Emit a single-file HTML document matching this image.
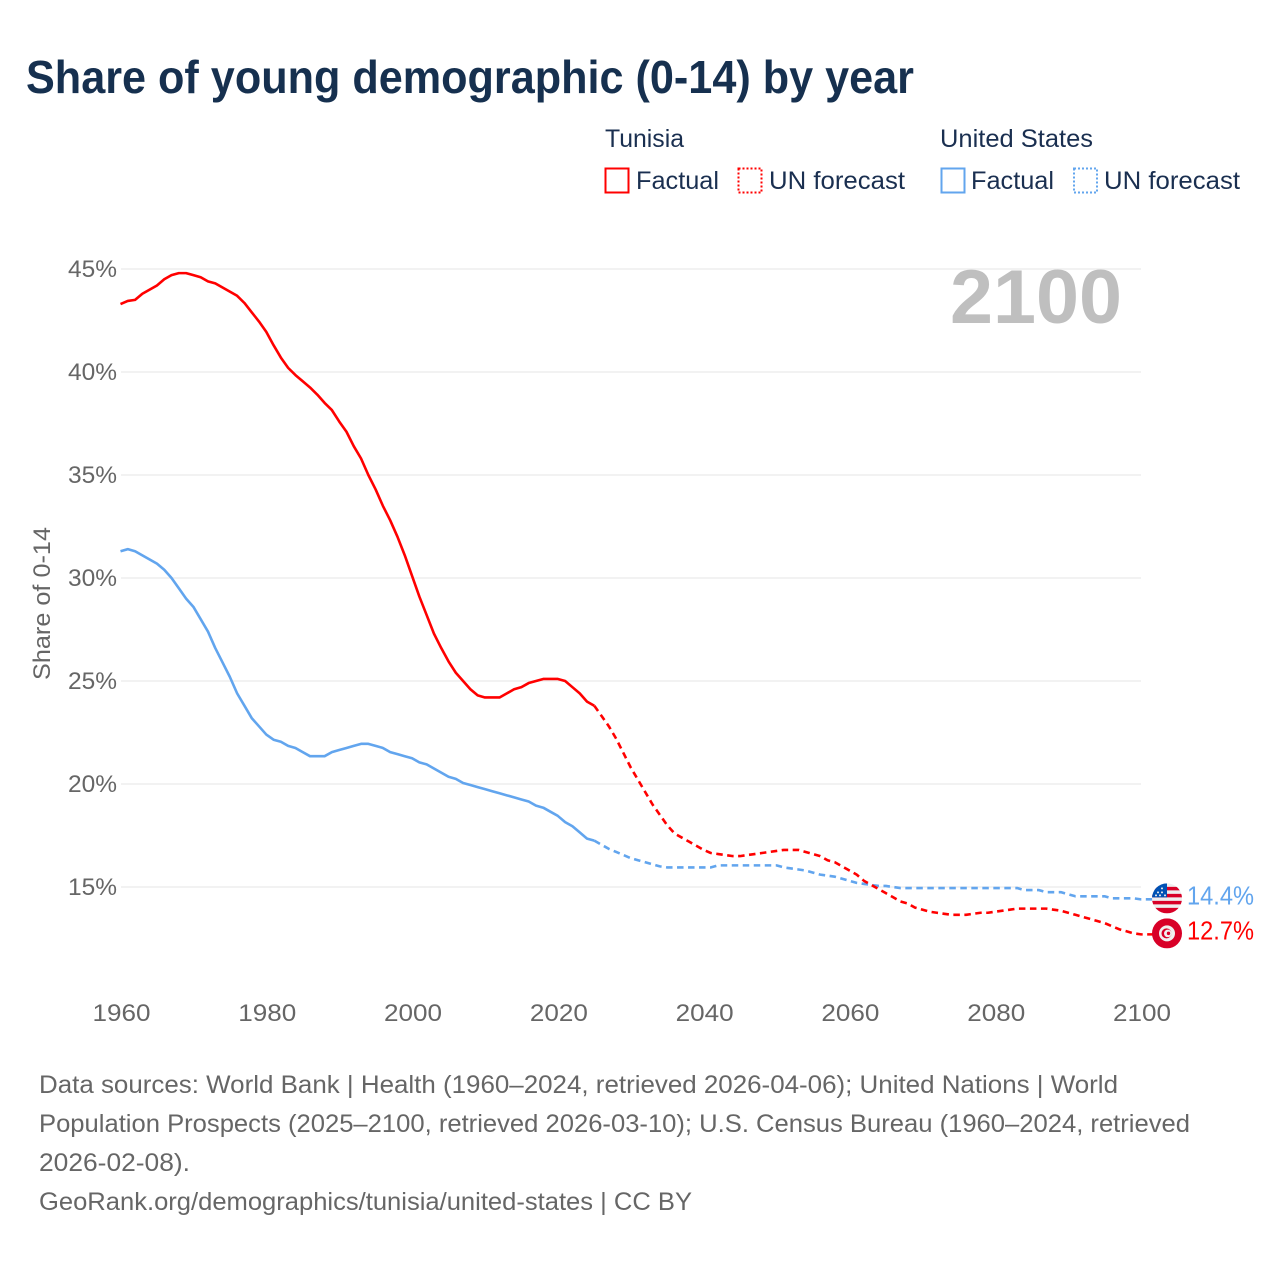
<!DOCTYPE html>
<html lang="en">
<head>
<meta charset="utf-8">
<title>Share of young demographic (0-14) by year</title>
<style>
html,body{margin:0;padding:0;background:#fff;}
svg{display:block;}
text{font-family:"Liberation Sans",sans-serif;}
.leg{font-size:25px;fill:#1a2f50;}
.foot{font-size:25px;fill:#666;}
.tick{font-size:24px;fill:#666;}
</style>
</head>
<body>
<svg id="chart" xmlns="http://www.w3.org/2000/svg" width="1280" height="1280" viewBox="0 0 1280 1280">
  <defs>
    <clipPath id="flag-clip-us"><circle cx="0" cy="0" r="15"/></clipPath>
    <clipPath id="flag-clip-tn"><circle cx="0" cy="0" r="15"/></clipPath>
  </defs>
  <rect width="1280" height="1280" fill="#fff"/>
  <text x="26" y="93" font-size="46" font-weight="700" fill="#16304f" textLength="888" lengthAdjust="spacingAndGlyphs">Share of young demographic (0-14) by year</text>

  <g>
    <text class="leg" x="605" y="147" textLength="79" lengthAdjust="spacingAndGlyphs">Tunisia</text>
    <rect x="605.5" y="168.5" width="23" height="24" fill="none" stroke="#ff0000" stroke-width="2"/>
    <text class="leg" x="636" y="189" textLength="83" lengthAdjust="spacingAndGlyphs">Factual</text>
    <rect x="738.5" y="168.5" width="23" height="24" fill="none" stroke="#ff0000" stroke-width="2" stroke-dasharray="2,2"/>
    <text class="leg" x="769" y="189" textLength="136" lengthAdjust="spacingAndGlyphs">UN forecast</text>
    <text class="leg" x="940" y="147" textLength="153" lengthAdjust="spacingAndGlyphs">United States</text>
    <rect x="941.5" y="168.5" width="23" height="24" fill="none" stroke="#62a5ee" stroke-width="2"/>
    <text class="leg" x="971" y="189" textLength="83" lengthAdjust="spacingAndGlyphs">Factual</text>
    <rect x="1074" y="168.5" width="23" height="24" fill="none" stroke="#62a5ee" stroke-width="2" stroke-dasharray="2,2"/>
    <text class="leg" x="1104" y="189" textLength="136" lengthAdjust="spacingAndGlyphs">UN forecast</text>
  </g>

  <g id="grid"></g>
  <g id="yticks"></g>
  <g id="xticks"></g>
  <text x="0" y="0" transform="translate(50,603.5) rotate(-90)" text-anchor="middle" font-size="24" fill="#666" textLength="153" lengthAdjust="spacingAndGlyphs">Share of 0-14</text>
  <text x="1122" y="323" text-anchor="end" font-size="76" font-weight="700" fill="#bfbfbf" textLength="172" lengthAdjust="spacingAndGlyphs">2100</text>
  <g id="series"></g>

  <g id="flag-us">
    <g clip-path="url(#flag-clip-us)">
      <rect x="-15" y="-15" width="30" height="30" fill="#eee"/>
      <rect x="-15" y="-4.5" width="30" height="3.5" fill="#d80027"/>
      <rect x="-15" y="2.5" width="30" height="3.5" fill="#d80027"/>
      <rect x="-15" y="9.5" width="30" height="5.5" fill="#d80027"/>
      <rect x="-15" y="-11.5" width="30" height="3.5" fill="#d80027"/>
      <rect x="-15" y="-15" width="15" height="14" fill="#0052b4"/>
      <circle cx="-9" cy="-6" r="1" fill="#eee"/><circle cx="-5" cy="-6" r="1" fill="#eee"/>
      <circle cx="-5" cy="-10" r="1" fill="#eee"/><circle cx="-2" cy="-3" r="1" fill="#eee"/>
      <circle cx="-7" cy="-3" r="1" fill="#eee"/><circle cx="-11" cy="-3" r="1" fill="#eee"/>
    </g>
  </g>
  <g id="flag-tn">
    <g clip-path="url(#flag-clip-tn)">
      <rect x="-15" y="-15" width="30" height="30" fill="#d80027"/>
      <circle cx="0" cy="0" r="8" fill="#f0f0f0"/>
      <circle cx="-0.5" cy="0" r="5" fill="#d80027"/>
      <circle cx="0.8" cy="0" r="3.8" fill="#f0f0f0"/>
      <circle cx="1.5" cy="0" r="1.7" fill="#d80027"/>
    </g>
  </g>
  <text id="label-us" x="1187" font-size="26" fill="#62a5ee" textLength="67" lengthAdjust="spacingAndGlyphs"></text>
  <text id="label-tn" x="1187" font-size="26" fill="#ff0000" textLength="67" lengthAdjust="spacingAndGlyphs"></text>

  <g>
    <text class="foot" x="39" y="1093" textLength="1079" lengthAdjust="spacingAndGlyphs">Data sources: World Bank | Health (1960–2024, retrieved 2026-04-06); United Nations | World</text>
    <text class="foot" x="39" y="1132" textLength="1151" lengthAdjust="spacingAndGlyphs">Population Prospects (2025–2100, retrieved 2026-03-10); U.S. Census Bureau (1960–2024, retrieved</text>
    <text class="foot" x="39" y="1171" textLength="151" lengthAdjust="spacingAndGlyphs">2026-02-08).</text>
    <text class="foot" x="39" y="1210" textLength="653" lengthAdjust="spacingAndGlyphs">GeoRank.org/demographics/tunisia/united-states | CC BY</text>
  </g>
</svg>
<script>
const yTickValues = [15, 20, 25, 30, 35, 40, 45];
const xTickYears = [1960, 1980, 2000, 2020, 2040, 2060, 2080, 2100];
const factualStartYear = 1960;
const forecastStartYear = 2025;
const tunisiaFactual = [
  43.3,43.45,43.5,43.8,44.0,44.2,44.5,44.7,44.8,44.8,
  44.7,44.6,44.4,44.3,44.1,43.9,43.7,43.35,42.9,42.45,
  41.95,41.3,40.7,40.2,39.85,39.55,39.25,38.9,38.5,38.15,
  37.6,37.1,36.4,35.8,35.0,34.3,33.5,32.8,32.0,31.1,
  30.1,29.1,28.2,27.3,26.6,25.95,25.4,25.0,24.6,24.3,
  24.2,24.2,24.2,24.4,24.6,24.7,24.9,25.0,25.1,25.1,
  25.1,25.0,24.7,24.4,24.0,23.8
];
const tunisiaForecast = [
  23.8,23.3,22.8,22.2,21.5,20.8,20.2,19.6,19.0,18.5,
  18.0,17.6,17.4,17.2,17.0,16.8,16.65,16.6,16.55,16.5,
  16.5,16.55,16.6,16.65,16.7,16.75,16.8,16.8,16.8,16.7,
  16.6,16.5,16.3,16.2,16.0,15.8,15.6,15.3,15.1,14.9,
  14.7,14.5,14.3,14.2,14.0,13.9,13.8,13.75,13.7,13.65,
  13.65,13.65,13.7,13.75,13.75,13.8,13.85,13.9,13.95,13.95,
  13.95,13.95,13.95,13.9,13.85,13.75,13.65,13.55,13.45,13.35,
  13.25,13.1,12.95,12.85,12.75,12.7
];
const usFactual = [
  31.3,31.4,31.3,31.1,30.9,30.7,30.4,30.0,29.5,29.0,
  28.6,28.0,27.4,26.6,25.9,25.2,24.4,23.8,23.2,22.8,
  22.4,22.15,22.05,21.85,21.75,21.55,21.35,21.35,21.35,21.55,
  21.65,21.75,21.85,21.95,21.95,21.85,21.75,21.55,21.45,21.35,
  21.25,21.05,20.95,20.75,20.55,20.35,20.25,20.05,19.95,19.85,
  19.75,19.65,19.55,19.45,19.35,19.25,19.15,18.95,18.85,18.65,
  18.45,18.15,17.95,17.65,17.35,17.25
];
const usForecast = [
  17.25,17.05,16.85,16.7,16.55,16.4,16.3,16.2,16.1,16.0,
  15.95,15.95,15.95,15.95,15.95,15.95,15.95,16.05,16.05,16.05,
  16.05,16.05,16.05,16.05,16.05,16.05,15.95,15.9,15.85,15.8,
  15.7,15.6,15.55,15.5,15.4,15.3,15.2,15.15,15.1,15.05,
  15.05,15.0,14.95,14.95,14.95,14.95,14.95,14.95,14.95,14.95,
  14.95,14.95,14.95,14.95,14.95,14.95,14.95,14.95,14.95,14.85,
  14.85,14.85,14.75,14.75,14.75,14.65,14.55,14.55,14.55,14.55,
  14.55,14.45,14.45,14.45,14.45,14.4
];

const SVG_NS = 'http://www.w3.org/2000/svg';
const RED = '#ff0000';
const BLUE = '#62a5ee';
const FLAG_X = 1167;
function xScale(year) { return 120.5 + (year - 1960) * (1141 - 120.5) / (2100 - 1960); }
function yScale(v) { return 887 - (v - 15) * (887 - 269) / (45 - 15); }
function make(tag, attrs, parent) {
  const el = document.createElementNS(SVG_NS, tag);
  Object.keys(attrs).forEach(function (k) { el.setAttribute(k, attrs[k]); });
  parent.appendChild(el);
  return el;
}
const gridG = document.getElementById('grid');
const yG = document.getElementById('yticks');
const xG = document.getElementById('xticks');
const seriesG = document.getElementById('series');

yTickValues.forEach(function (v) {
  const line = make('line', { x1: 121, x2: 1141, y1: yScale(v), y2: yScale(v), stroke: '#eeeeee', 'stroke-width': 1.5 }, gridG);
  
  
  const t = make('text', { x: 117, y: yScale(v) + 8, 'text-anchor': 'end', class: 'tick', textLength: 49, lengthAdjust: 'spacingAndGlyphs' }, yG);
  t.textContent = v + '%';
  
  
});
xTickYears.forEach(function (y) {
  const t = make('text', { x: xScale(y) + 1, y: 1021, 'text-anchor': 'middle', class: 'tick', textLength: 58, lengthAdjust: 'spacingAndGlyphs' }, xG);
  t.textContent = String(y);
  
  
});
function pathFor(values, startYear) {
  return values.map(function (v, i) {
    return (i ? 'L' : 'M') + xScale(startYear + i).toFixed(2) + ' ' + yScale(v).toFixed(2);
  }).join(' ');
}
function pathAttrs(d, color, dashed) {
  const a = { d: d, fill: 'none', stroke: color, 'stroke-width': 2.6, 'stroke-linejoin': 'round' };
  if (dashed) { a['stroke-dasharray'] = '6.5,4.5'; }
  return a;
}
const last = function (arr) { return arr[arr.length - 1]; };

const usSolid = make('path', pathAttrs(pathFor(usFactual, factualStartYear), BLUE, false), seriesG);


const usDash = make('path', pathAttrs(pathFor(usForecast, forecastStartYear) + ' L' + FLAG_X + ' ' + yScale(last(usForecast)).toFixed(2), BLUE, true), seriesG);


const tnSolid = make('path', pathAttrs(pathFor(tunisiaFactual, factualStartYear), RED, false), seriesG);


const tnDash = make('path', pathAttrs(pathFor(tunisiaForecast, forecastStartYear) + ' L' + FLAG_X + ' ' + yScale(last(tunisiaForecast)).toFixed(2), RED, true), seriesG);



const usEndY = yScale(last(usForecast)) - 1;
const tnEndY = yScale(last(tunisiaForecast)) - 1;
document.getElementById('flag-us').setAttribute('transform', 'translate(' + FLAG_X + ',' + usEndY + ')');
document.getElementById('flag-tn').setAttribute('transform', 'translate(' + FLAG_X + ',' + tnEndY + ')');
const labelUs = document.getElementById('label-us');
labelUs.setAttribute('y', usEndY + 6);
labelUs.textContent = last(usForecast).toFixed(1) + '%';
const labelTn = document.getElementById('label-tn');
labelTn.setAttribute('y', tnEndY + 6);
labelTn.textContent = last(tunisiaForecast).toFixed(1) + '%';
</script>
</body>
</html>
